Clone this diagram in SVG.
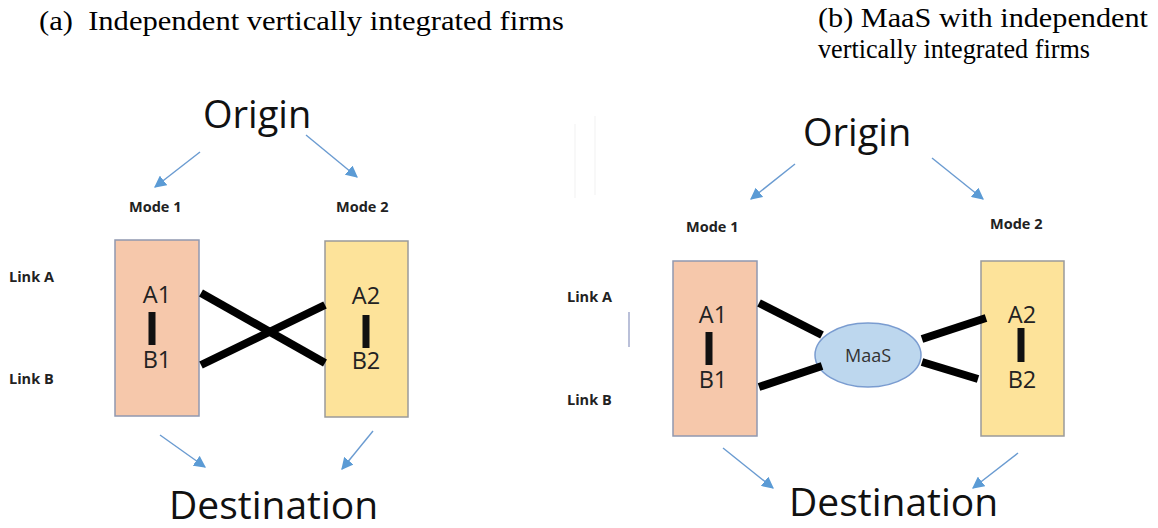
<svg xmlns="http://www.w3.org/2000/svg" width="1158" height="528" viewBox="0 0 1158 528">
<defs>
<style>
.title{font-family:"Liberation Serif",serif;font-size:28px;fill:#000}
.big{font-family:"Open Sans","Liberation Sans",sans-serif;font-size:38px;fill:#111}
.dest{font-family:"Open Sans","Liberation Sans",sans-serif;font-size:39px;fill:#111}
.mode{font-family:"Open Sans","Liberation Sans",sans-serif;font-size:14.5px;font-weight:bold;fill:#222}
.lbl{font-family:"Open Sans","Liberation Sans",sans-serif;font-size:23.5px;fill:#222;text-anchor:middle}
.maas{font-family:"Open Sans","Liberation Sans",sans-serif;font-size:18px;fill:#333;text-anchor:middle}
.peach{fill:#F6C8AB;stroke:#9098B0;stroke-width:1.5}
.yellow{fill:#FDE39A;stroke:#9A9A9A;stroke-width:1.5}
.bar{stroke:#111;stroke-width:7}
.link{stroke:#000;stroke-width:8}
.arr{stroke:#6A9BD1;stroke-width:1.4;fill:none;marker-end:url(#ah)}
</style>
<marker id="ah" viewBox="0 0 10 10" refX="9" refY="5" markerWidth="12" markerHeight="12" markerUnits="userSpaceOnUse" orient="auto"><path d="M0,0 L10,5 L0,10 z" fill="#5B9BD5"/></marker>
</defs>
<rect width="1158" height="528" fill="#fff"/>
<text class="title" x="39" y="30" textLength="525" lengthAdjust="spacingAndGlyphs" xml:space="preserve">(a)  Independent vertically integrated firms</text>
<text class="title" x="818" y="27" textLength="330" lengthAdjust="spacingAndGlyphs">(b) MaaS with independent</text>
<text class="title" x="818" y="58" textLength="272" lengthAdjust="spacingAndGlyphs">vertically integrated firms</text>

<!-- faint artefacts -->
<g stroke="#f1f1f1" stroke-width="1">
<line x1="575" y1="124" x2="575" y2="198"/>
<line x1="595" y1="116" x2="595" y2="195"/>
</g>
<line x1="629" y1="312" x2="629" y2="347" stroke="#8C96C0" stroke-width="1.2"/>

<!-- Panel a -->
<g id="a-origin"><text class="big" x="203" y="128">Origin</text></g>
<g id="a-dest"><text class="dest" x="169" y="519">Destination</text></g>
<g id="a-mode1"><text class="mode" x="129" y="212">Mode 1</text></g>
<g id="a-mode2"><text class="mode" x="336" y="212">Mode 2</text></g>
<g id="a-linkA"><text class="mode" x="9" y="282">Link A</text></g>
<g id="a-linkB"><text class="mode" x="9" y="384">Link B</text></g>
<g id="a-box1">
<rect class="peach" x="115" y="240" width="84" height="176"/>
<text class="lbl" x="157" y="303">A1</text>
<line class="bar" x1="152" y1="312" x2="152" y2="345"/>
<text class="lbl" x="157" y="368">B1</text>
</g>
<g id="a-box2">
<rect class="yellow" x="325" y="241" width="83" height="176"/>
<text class="lbl" x="366" y="304">A2</text>
<line class="bar" x1="366" y1="315" x2="366" y2="348"/>
<text class="lbl" x="366" y="369">B2</text>
</g>

<!-- Panel b -->
<g id="b-origin"><text class="big" x="803" y="146">Origin</text></g>
<g id="b-dest"><text class="dest" x="789" y="516">Destination</text></g>
<g id="b-mode1"><text class="mode" x="686" y="232">Mode 1</text></g>
<g id="b-mode2"><text class="mode" x="990" y="229">Mode 2</text></g>
<g id="b-linkA"><text class="mode" x="567" y="302">Link A</text></g>
<g id="b-linkB"><text class="mode" x="567" y="405">Link B</text></g>
<g id="b-box1">
<rect class="peach" x="673" y="261" width="84" height="175"/>
<text class="lbl" x="713" y="323">A1</text>
<line class="bar" x1="709" y1="332" x2="709" y2="365"/>
<text class="lbl" x="713" y="388">B1</text>
</g>
<g id="b-box2">
<rect class="yellow" x="981" y="261" width="83" height="175"/>
<text class="lbl" x="1022" y="323">A2</text>
<line class="bar" x1="1021" y1="328" x2="1021" y2="362"/>
<text class="lbl" x="1022" y="388">B2</text>
</g>
<g id="b-maas">
<ellipse cx="868" cy="355" rx="53" ry="32" fill="#BDD7EE" stroke="#7A9CD0" stroke-width="1.5"/>
<text class="maas" x="868" y="362">MaaS</text>
</g>

<g id="connectors">
<line class="arr" x1="200" y1="152" x2="155" y2="187"/>
<line class="arr" x1="306" y1="135" x2="357" y2="177"/>
<line class="arr" x1="160" y1="435" x2="205" y2="467"/>
<line class="arr" x1="373" y1="431" x2="342" y2="469"/>
<line class="link" x1="201" y1="293" x2="325" y2="363"/>
<line class="link" x1="201" y1="365" x2="325" y2="305"/>

<line class="arr" x1="795" y1="164" x2="751" y2="199"/>
<line class="arr" x1="932" y1="158" x2="983" y2="199"/>
<line class="arr" x1="723" y1="448" x2="773" y2="488"/>
<line class="arr" x1="1018" y1="453" x2="973" y2="488"/>
<line class="link" x1="759" y1="303" x2="822" y2="335"/>
<line class="link" x1="759" y1="387" x2="822" y2="366"/>
<line class="link" x1="922" y1="339" x2="986" y2="318"/>
<line class="link" x1="922" y1="362" x2="978" y2="379"/>
</g>
</svg>
